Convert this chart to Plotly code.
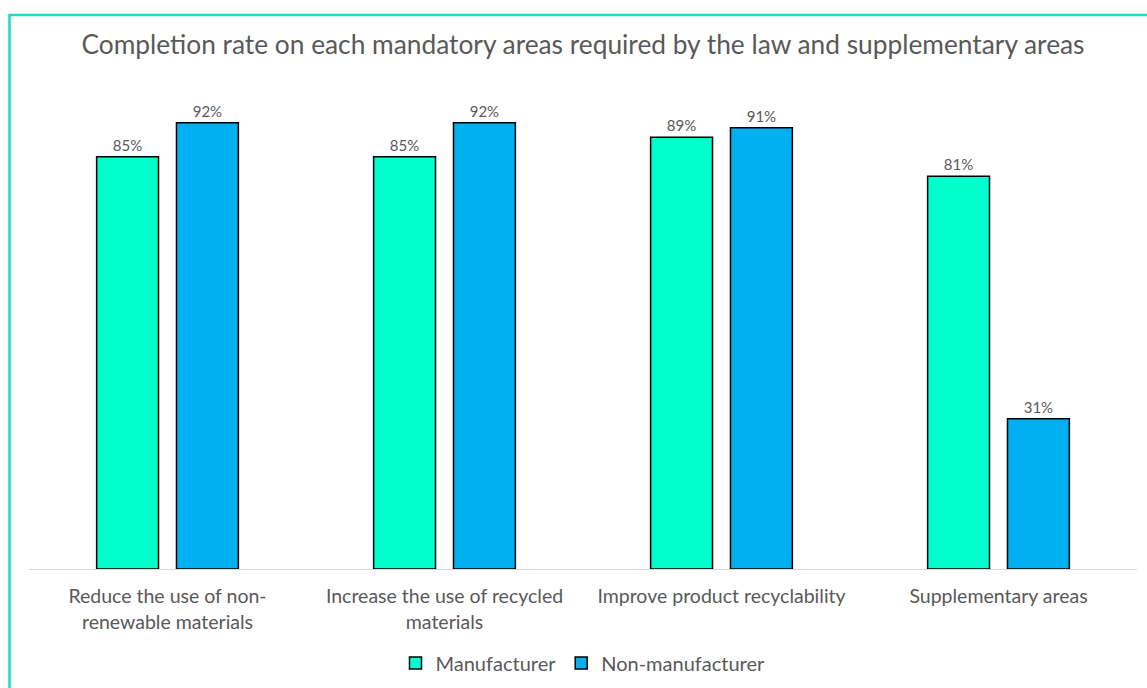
import plotly.graph_objects as go

categories = [
    "Reduce the use of non-<br>renewable materials",
    "Increase the use of recycled<br>materials",
    "Improve product recyclability",
    "Supplementary areas",
]
manufacturer = [0.85, 0.85, 0.89, 0.81]
non_manufacturer = [0.92, 0.92, 0.91, 0.31]

W, H = 1147, 688
L, R, T, B = 29, 10, 84, 119
FONT = "Lato, 'Open Sans', sans-serif"
TXT = "#595959"

fig = go.Figure()
fig.add_trace(go.Bar(
    name="Manufacturer", x=categories, y=manufacturer,
    marker=dict(color="#00FFCC", line=dict(color="#000000", width=1.5)),
    text=[f"{v:.0%}" for v in manufacturer], textposition="outside",
    textfont=dict(size=15, color=TXT, family=FONT), cliponaxis=False,
))
fig.add_trace(go.Bar(
    name="Non-manufacturer", x=categories, y=non_manufacturer,
    marker=dict(color="#00B0F0", line=dict(color="#000000", width=1.5)),
    text=[f"{v:.0%}" for v in non_manufacturer], textposition="outside",
    textfont=dict(size=15, color=TXT, family=FONT), cliponaxis=False,
))

pw = W - L - R
ph = H - T - B
bx0 = (9.5 - L) / pw
by1 = 1 + (T - 15) / ph

fig.update_layout(
    width=W, height=H,
    margin=dict(l=L, r=R, t=T, b=B, autoexpand=False),
    paper_bgcolor="white", plot_bgcolor="white",
    barmode="group", bargap=0.4234, bargroupgap=0.225,
    title=dict(text="Completion rate on each mandatory areas required by the law and supplementary areas",
               x=583 / W, xanchor="center", y=1 - 45 / H, yanchor="middle",
               font=dict(size=26.3, color=TXT, family=FONT)),
    font=dict(family=FONT, color=TXT),
    xaxis=dict(showline=True, linecolor="#D9D9D9", linewidth=1, showgrid=False, automargin=False,
               ticks="outside", ticklen=10, tickcolor="rgba(0,0,0,0)",
               tickfont=dict(size=19.5, color=TXT, family=FONT)),
    yaxis=dict(range=[0, 1], visible=False, showgrid=False, zeroline=False, automargin=False),
    legend=dict(orientation="h", x=0.5, xanchor="center", y=-(663 - 569) / ph, yanchor="middle",
                font=dict(size=20, color=TXT, family=FONT), traceorder="normal"),
    showlegend=True,
    shapes=[dict(type="rect", xref="paper", yref="paper", x0=bx0, x1=1.2, y0=-0.5, y1=by1,
                 line=dict(color="#1ADBC4", width=2.5), fillcolor="rgba(0,0,0,0)", layer="below")],
)

fig.write_html("out.html", config={"displayModeBar": False},
               post_script="document.body.style.margin='0';")
